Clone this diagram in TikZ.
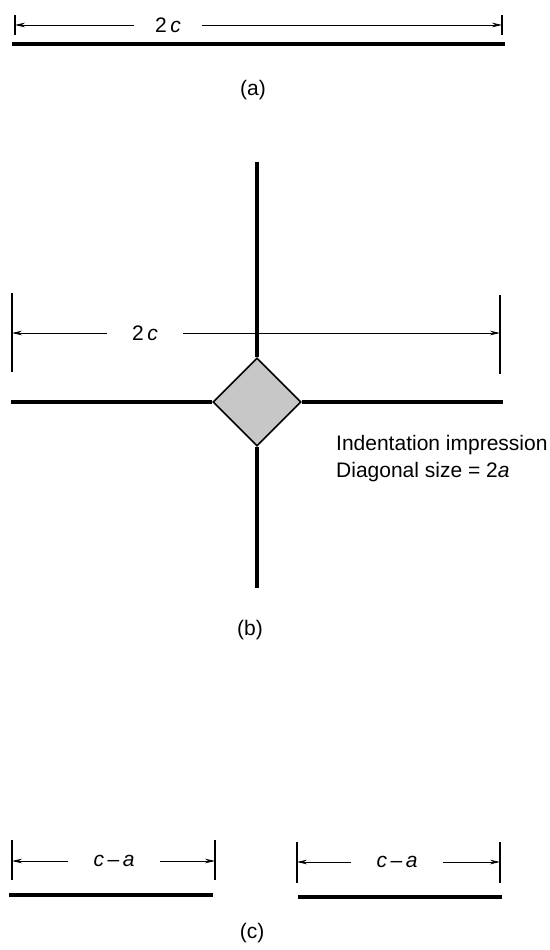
\documentclass[tikz,border=0pt]{standalone}
\usepackage{fontspec}
\setmainfont{Liberation Sans}
\usetikzlibrary{arrows.meta,positioning,shapes.geometric}

\begin{document}
\begin{tikzpicture}[
    x=1pt, y=-1pt, font=\fontsize{21}{25}\selectfont,
    >={Stealth[length=10pt, width=4.6pt]},
    bar/.style={line width=4.5pt},
    beam/.style={line width=4pt},
    tick/.style={line width=1.1pt},
    dim/.style={->, line width=0.8pt},
    dimlab/.style={inner xsep=25pt, inner ysep=2pt},
    imprint/.style={diamond, draw, line width=1.6pt, fill=black!22,
      minimum width=88pt, minimum height=88pt, inner sep=0pt},
    note/.style={anchor=west, align=left, inner sep=0pt}]
  \useasboundingbox (0,0) rectangle (549,950);

  % ---- (a) ----
  \draw[tick] (15,15) -- (15,35);
  \draw[tick] (502,15) -- (502,35);
  \coordinate (aL) at (15,25);
  \coordinate (aR) at (502,25);
  \node[dimlab, inner xsep=21pt] (alab) at (168,25) {2\,\textit{c}};
  \draw[dim] (alab.west) -- (aL);
  \draw[dim] (alab.east) -- (aR);
  \draw[bar] (12,44) -- (505,44);
  \node (capa) at (253,90) {(a)};

  % ---- (b) ----
  \node[imprint] (imp) at (257,402) {};
  \coordinate (bTop) at (257,162);
  \coordinate (bBot) at (257,588);
  \coordinate (bLeft) at (11,402);
  \coordinate (bRight) at (503,402);
  \draw[beam] (imp.north) -- (bTop);
  \draw[beam] (imp.south) -- (bBot);
  \draw[beam] (imp.west) -- (bLeft);
  \draw[beam] (imp.east) -- (bRight);
  \draw[tick] (12,293) -- (12,372);
  \draw[tick] (500,295) -- (500,374);
  \coordinate (bL) at (12,333);
  \coordinate (bR) at (500,333);
  \node[dimlab] (blab) at (145,333) {2\,\textit{c}};
  \draw[dim] (blab.west) -- (bL);
  \draw[dim] (blab.east) -- (bR);
  \node[note] (note1) at (336,445) {Indentation impression};
  \node[note] (note2) at (336,472) {Diagonal size = 2\textit{a}};
  \node (capb) at (250,630) {(b)};

  % ---- (c) ----
  \draw[tick] (12,840) -- (12,880);
  \draw[tick] (215,840) -- (215,880);
  \coordinate (cL1) at (12,861);
  \coordinate (cR1) at (215,861);
  \node[dimlab] (clab1) at (114,861) {\textit{c}\,--\,\textit{a}};
  \draw[dim] (clab1.west) -- (cL1);
  \draw[dim] (clab1.east) -- (cR1);
  \draw[bar] (9,895) -- (213,895);
  \draw[tick] (297,842) -- (297,883);
  \draw[tick] (500,842) -- (500,883);
  \coordinate (cL2) at (297,862);
  \coordinate (cR2) at (500,862);
  \node[dimlab] (clab2) at (397,862) {\textit{c}\,--\,\textit{a}};
  \draw[dim] (clab2.west) -- (cL2);
  \draw[dim] (clab2.east) -- (cR2);
  \draw[bar] (298,897) -- (502,897);
  \node (capc) at (252,933) {(c)};
\end{tikzpicture}
\end{document}
